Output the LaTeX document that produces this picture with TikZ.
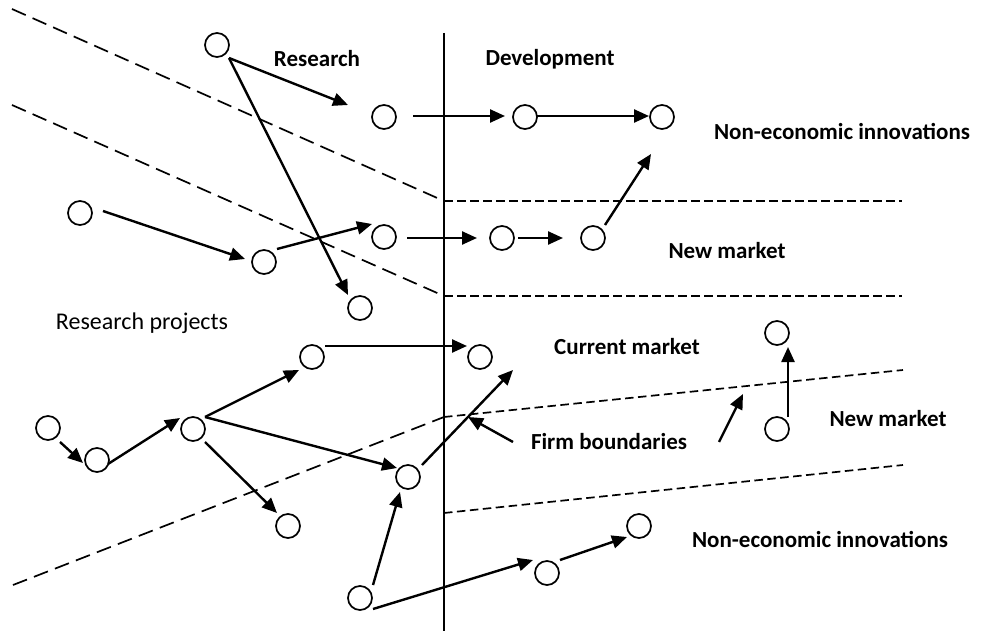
\documentclass[tikz,border=0pt]{standalone}
\usepackage{fontspec}
\setmainfont{Carlito}
\usetikzlibrary{arrows.meta,calc}
\tikzset{
  pt/.style={circle,draw,line width=1.7pt,minimum size=24pt,inner sep=0pt},
  arr/.style={line width=2.4pt,-{Triangle[length=15pt,width=13pt]}},
  lbl/.style={font=\fontsize{23}{26}\selectfont\bfseries,inner sep=0pt},
  lblr/.style={font=\fontsize{24}{27}\selectfont,inner sep=0pt},
  longdash/.style={line width=1.7pt,dash pattern=on 15pt off 7.5pt},
  shortdash/.style={line width=1.7pt,dash pattern=on 8.5pt off 4.5pt},
  firm/.style={line width=1.6pt}
}
\begin{document}
\begin{tikzpicture}[x=1pt,y=-1pt]
\useasboundingbox (0,0) rectangle (998,631);
% boundaries
\draw[firm] (444,33) -- (444,631);
\draw[longdash] (12,9) -- (444,201);
\draw[shortdash] (444,201) -- (902,201);
\draw[longdash] (12,105) -- (444,296);
\draw[shortdash] (444,296) -- (902,296);
\draw[longdash] (13,585) -- (444,417);
\draw[shortdash] (444,417) -- (903,370);
\draw[shortdash] (444,513) -- (903,465);
% labels
\node[lbl] (research) at (317,59) {Research};
\node[lbl] (dev) at (550,59) {Development};
\node[lbl] (nei1) at (842,131) {Non-economic innovations};
\node[lbl] (nm1) at (727,251) {New market};
\node[lblr] (rp) at (142,323) {Research projects};
\node[lbl] (cm) at (627,347) {Current market};
\node[lbl] (FB) at (609,442) {Firm boundaries};
\node[lbl] (nm2) at (888,419) {New market};
\node[lbl] (nei2) at (820,539) {Non-economic innovations};
% circles
\node[pt] (A) at (217,45) {};
\node[pt] (B) at (384,117) {};
\node[pt] (C) at (80,213) {};
\node[pt] (D) at (264,262) {};
\node[pt] (E) at (384,237) {};
\node[pt] (F) at (360,308) {};
\node[pt] (G) at (525,117) {};
\node[pt] (H) at (662,117) {};
\node[pt] (I) at (502,238) {};
\node[pt] (J) at (593,238) {};
\node[pt] (K) at (48,428) {};
\node[pt] (L) at (97,460) {};
\node[pt] (M) at (193,429) {};
\node[pt] (N) at (312,357) {};
\node[pt] (O) at (480,357) {};
\node[pt] (P) at (288,526) {};
\node[pt] (Q) at (408,477) {};
\node[pt] (R) at (360,598) {};
\node[pt] (S) at (547,573) {};
\node[pt] (T) at (639,526) {};
\node[pt] (U) at (777,333) {};
\node[pt] (V) at (777,429) {};
\coordinate (Z) at (513,370);
\coordinate (fb1) at (468,417);
\coordinate (fb2) at (743,394);
% arrows
\draw[arr] ($(A)+(12,13)$) -- ($(B)+(-36,-12)$);
\draw[arr] ($(A)+(12,13)$) -- ($(F)+(-12,-13)$);
\draw[arr] ($(C)+(23,-2)$) -- ($(D)+(-19,-3)$);
\draw[arr] ($(D)+(13,-13)$) -- ($(E)+(-12,-13)$);
\draw[arr] ($(B)+(29,-1)$) -- ($(G)+(-20,-1)$);
\draw[arr] ($(G)+(12,-1)$) -- ($(H)+(-13,-1)$);
\draw[arr] ($(E)+(23,1)$) -- ($(I)+(-25,0)$);
\draw[arr] ($(I)+(16,0)$) -- ($(J)+(-30,0)$);
\draw[arr] ($(J)+(12,-13)$) -- ($(H)+(-11,37)$);
\draw[arr] ($(K)+(12,14)$) -- ($(L)+(-14,3)$);
\draw[arr] ($(L)+(11,4)$) -- ($(M)+(-13,-11)$);
\draw[arr] ($(M)+(12,-12)$) -- ($(N)+(-13,13)$);
\draw[arr] ($(M)+(12,-12)$) -- ($(Q)+(-11,-9)$);
\draw[arr] ($(M)+(12,13)$) -- ($(P)+(-11,-13)$);
\draw[arr] ($(N)+(13,-11)$) -- ($(O)+(-13,-11)$);
\draw[arr] ($(Q)+(14,-12)$) -- (Z);
\draw[arr] ($(R)+(13,-13)$) -- ($(Q)+(-8,15)$);
\draw[arr] ($(R)+(13,11)$) -- ($(S)+(-14,-13)$);
\draw[arr] ($(S)+(13,-13)$) -- ($(T)+(-12,11)$);
\draw[arr] ($(V)+(11,-12)$) -- ($(U)+(11,14)$);
\draw[arr] ($(FB)+(-96,0)$) -- (fb1);
\draw[arr] ($(FB)+(110,0)$) -- (fb2);
\end{tikzpicture}
\end{document}
